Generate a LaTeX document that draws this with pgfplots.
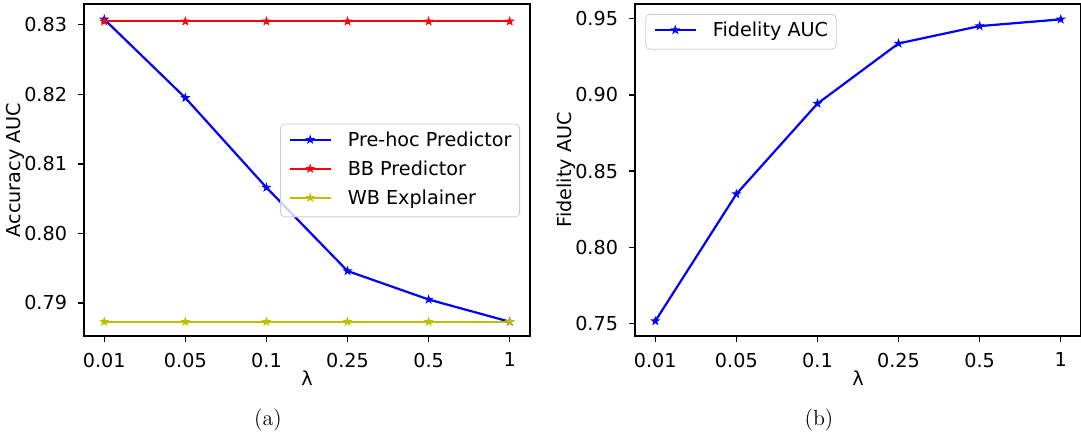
\documentclass[border=0pt]{standalone}
\usepackage{fontspec}
\setsansfont{DejaVu Sans}
\newfontfamily\dejavu{DejaVu Sans}
\usepackage{pgfplots}
\pgfplotsset{compat=1.18}

\definecolor{mplyellow}{rgb}{0.75,0.75,0}

% filled five-pointed star, like matplotlib's '*'
\pgfdeclareplotmark{fstar}{%
  \pgfpathmoveto{\pgfpointpolar{90}{\pgfplotmarksize}}%
  \pgfpathlineto{\pgfpointpolar{126}{0.382\pgfplotmarksize}}%
  \pgfpathlineto{\pgfpointpolar{162}{\pgfplotmarksize}}%
  \pgfpathlineto{\pgfpointpolar{198}{0.382\pgfplotmarksize}}%
  \pgfpathlineto{\pgfpointpolar{234}{\pgfplotmarksize}}%
  \pgfpathlineto{\pgfpointpolar{270}{0.382\pgfplotmarksize}}%
  \pgfpathlineto{\pgfpointpolar{306}{\pgfplotmarksize}}%
  \pgfpathlineto{\pgfpointpolar{342}{0.382\pgfplotmarksize}}%
  \pgfpathlineto{\pgfpointpolar{18}{\pgfplotmarksize}}%
  \pgfpathlineto{\pgfpointpolar{54}{0.382\pgfplotmarksize}}%
  \pgfpathclose
  \pgfusepathqfillstroke}

\newcommand{\plotfont}{\fontsize{9.6}{11}\dejavu}

\pgfplotsset{
  lambdaplot/.style={
    scale only axis,
    width=223pt, height=166pt,
    xmin=-0.25, xmax=5.25,
    xtick={0,1,2,3,4,5},
    xticklabels={0.01,0.05,0.1,0.25,0.5,1},
    axis line style={line width=0.6pt},
    tick style={black, line width=0.6pt},
    major tick length=2.8pt,
    tick align=outside,
    xtick pos=bottom, ytick pos=left,
    every tick label/.append style={font=\plotfont},
    label style={font=\plotfont},
    yticklabel style={anchor=east, inner sep=0pt, xshift=-5.5pt},
    xticklabel style={anchor=north, inner sep=0pt, yshift=-5.4pt},
    xlabel={λ},
    xlabel style={at={(axis description cs:0.5,0)}, anchor=center, yshift=-21pt},
    ylabel style={at={(axis description cs:0,0.5)}, anchor=center, yshift=34.5pt},
    legend cell align=left,
    legend image code/.code={
      \draw[mark repeat=2, mark phase=2, #1]
        plot coordinates {(0pt,0.9pt) (10.25pt,0.9pt) (20.5pt,0.9pt)};
    },
    legend style={draw=black!20, rounded corners=2pt, fill=white,
      fill opacity=0.8, text opacity=1, font=\plotfont,
      inner xsep=4pt, inner ysep=4.2pt, row sep=5.5pt, column sep=8pt,
      nodes={inner sep=0pt, text height=7pt, text depth=2pt}},
    every axis plot/.append style={line width=1.1pt, mark=fstar, mark size=2pt,
      mark options={solid, line width=0.4pt}},
  }
}

\begin{document}
\begin{tikzpicture}
\useasboundingbox (0,0) rectangle (540.5pt,217pt);

% (a) accuracy
\begin{axis}[
  lambdaplot,
  at={(42pt,49pt)}, anchor=south west,
  ymin=0.78525, ymax=0.8330,
  ytick={0.79,0.80,0.81,0.82,0.83},
  yticklabels={0.79,0.80,0.81,0.82,0.83},
  ylabel={Accuracy AUC},
  legend style={at={(0.9776,0.4985)}, anchor=east},
]
\addplot[blue] coordinates {(0,0.8308) (1,0.8195) (2,0.8066) (3,0.7946) (4,0.7905) (5,0.7873)};
\addlegendentry{Pre-hoc Predictor}
\addplot[red] coordinates {(0,0.8305) (1,0.8305) (2,0.8305) (3,0.8305) (4,0.8305) (5,0.8305)};
\addlegendentry{BB Predictor}
\addplot[mplyellow] coordinates {(0,0.7873) (1,0.7873) (2,0.7873) (3,0.7873) (4,0.7873) (5,0.7873)};
\addlegendentry{WB Explainer}
\end{axis}

% (b) fidelity
\begin{axis}[
  lambdaplot,
  at={(317.5pt,49pt)}, anchor=south west,
  ymin=0.7417, ymax=0.9597,
  ytick={0.75,0.80,0.85,0.90,0.95},
  yticklabels={0.75,0.80,0.85,0.90,0.95},
  ylabel={Fidelity AUC},
  legend style={at={(0.0231,0.9699)}, anchor=north west},
]
\addplot[blue] coordinates {(0,0.7515) (1,0.8349) (2,0.8943) (3,0.9338) (4,0.9452) (5,0.9496)};
\addlegendentry{Fidelity AUC}
\end{axis}

\node[font=\fontsize{11}{13}\selectfont] at (134pt,7pt) {(a)};
\node[font=\fontsize{11}{13}\selectfont] at (409.5pt,7pt) {(b)};
\end{tikzpicture}
\end{document}
